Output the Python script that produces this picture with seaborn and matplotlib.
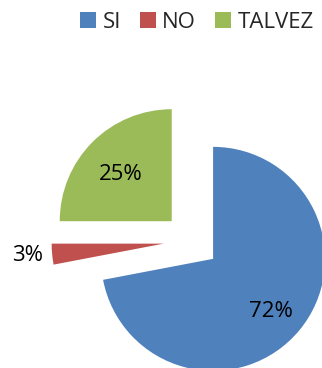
import matplotlib
matplotlib.use("Agg")
import matplotlib.pyplot as plt
import seaborn as sns
import numpy as np
from matplotlib.patches import Patch

categories = ["SI", "NO", "TALVEZ"]
values = [72, 3, 25]
colors = ["#4F81BD", "#C0504D", "#9BBB59"]

sns.set_theme(style="white")
plt.rcParams["font.family"] = ["Open Sans", "DejaVu Sans"]

fig = plt.figure(figsize=(3.22, 3.68), dpi=100)
ax = fig.add_axes([0, 0, 1, 1])

wedges, texts, autotexts = ax.pie(
    values,
    colors=colors,
    startangle=90,
    counterclock=False,
    explode=[0.25] * len(values),
    autopct=lambda p: f"{p:.0f}%",
    pctdistance=0.66,
    textprops=dict(fontsize=16, color="black"),
    wedgeprops=dict(linewidth=0),
)

# small slices get their percentage outside the wedge; others sit a bit lower
for w, t, v in zip(wedges, autotexts, values):
    mid = np.deg2rad((w.theta1 + w.theta2) / 2)
    if v < 5:
        t.set_position((1.47 * np.cos(mid), 1.47 * np.sin(mid) + 0.01))
    else:
        x, y = t.get_position()
        t.set_position((x + 0.01, y - 0.05))

ax.set_xlim(-1.710, 1.165)
ax.set_ylim(-1.134, 2.152)
ax.set_aspect("equal", adjustable="datalim")
ax.axis("off")

handles = [Patch(facecolor=c, edgecolor="none", label=l) for c, l in zip(colors, categories)]
fig.legend(
    handles=handles,
    loc="center",
    bbox_to_anchor=(197 / 322, 1 - 22 / 368),
    ncol=3,
    frameon=False,
    fontsize=16,
    handlelength=0.7,
    handleheight=0.7,
    handletextpad=0.3,
    columnspacing=0.85,
)

fig.savefig("out.png", dpi=100)
